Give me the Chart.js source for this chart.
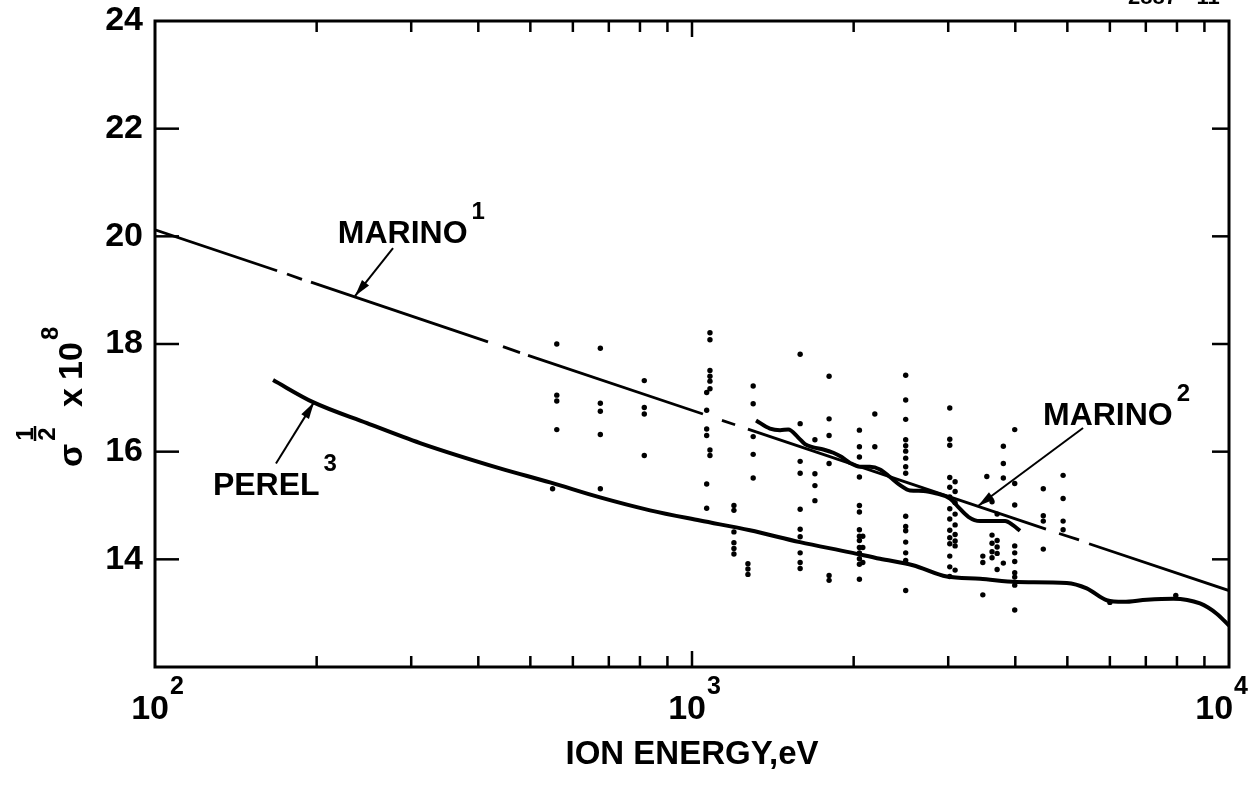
<!DOCTYPE html>
<html>
<head>
<meta charset="utf-8">
<script src="https://cdn.jsdelivr.net/npm/chart.js@4.4.1/dist/chart.umd.min.js"></script>
<style>
  html, body { margin: 0; padding: 0; background: #fff; }
  #chart { display: block; }
</style>
</head>
<body>
<canvas id="chart" width="1252" height="785"></canvas>
<script>
// ion energy (eV) vs sigma^1/2 x 10^8

// Marino (1) straight fit, drawn as dash/gap pairs (odd segments are gaps)
const marino1Energy = [100, 168.8, 176.1, 187.8, 195.2, 417, 444.6, 478.3, 495, 1048, 1137, 1203, 1271, 4562, 4825, 5257, 5488, 10000];
const marino1Value = [20.12, 19.36, 19.30, 19.20, 19.15, 18.04, 17.95, 17.84, 17.79, 16.70, 16.58, 16.50, 16.42, 14.56, 14.48, 14.36, 14.29, 13.42];

// Marino (2) measured curve
const marino2Energy = [1316, 1397, 1459, 1511, 1578, 1623, 1682, 1756, 1833, 1900, 1969, 2055, 2145, 2239, 2337, 2440, 2547, 2696, 2856, 3023, 3133, 3270, 3438, 3640, 3828, 3965, 4081];
const marino2Value = [16.58, 16.43, 16.40, 16.41, 16.26, 16.14, 16.08, 16.04, 15.98, 15.90, 15.79, 15.72, 15.72, 15.67, 15.53, 15.38, 15.28, 15.27, 15.22, 15.13, 14.97, 14.79, 14.71, 14.71, 14.71, 14.63, 14.53];

// Perel (3) theory
const perelEnergy = [165.9, 196.9, 248.2, 311.6, 438.9, 544, 674.1, 835.3, 1035, 1282, 1589, 1969, 2239, 2579, 2981, 3438, 4024, 4987, 5433, 5921, 6358, 7027, 7877, 8831, 9487, 10000];
const perelValue = [17.33, 16.92, 16.53, 16.16, 15.69, 15.43, 15.15, 14.91, 14.72, 14.54, 14.32, 14.13, 14.01, 13.89, 13.68, 13.64, 13.58, 13.56, 13.46, 13.24, 13.21, 13.25, 13.27, 13.18, 12.99, 12.77];

// scattered measurements, grouped by energy column
const dotEnergy = [560, 550, 675, 815, 1080, 1065, 1197, 1271, 1300, 1590, 1694, 1800, 2050, 2080, 2190, 2500, 3020, 3090, 3480, 3620, 3700, 3540, 3800, 3990, 4510, 4910, 6000, 7960];
const dotValues = [
  [18.0, 17.05, 16.94, 16.41],
  [15.31],
  [17.92, 16.90, 16.75, 16.32, 15.31],
  [17.32, 16.82, 16.70, 15.93],
  [18.21, 18.08, 17.51, 17.40, 17.31, 17.17, 16.03, 15.93],
  [17.10, 16.77, 16.42, 16.30, 15.40, 14.95],
  [15.0, 14.91, 14.51, 14.31, 14.20, 14.10],
  [13.92, 13.82, 13.72],
  [17.22, 16.89, 16.28, 15.95, 15.51],
  [17.81, 16.52, 15.82, 15.60, 14.93, 14.56, 14.42, 14.12, 13.94, 13.83],
  [16.22, 15.59, 15.37, 15.09],
  [17.40, 16.61, 16.30, 15.78, 13.70, 13.61],
  [16.40, 16.09, 15.90, 15.53, 15.00, 14.88, 14.55, 14.43, 14.35, 14.22, 14.12, 14.01, 13.91, 13.63],
  [14.43, 14.22, 13.94],
  [16.70, 16.09],
  [17.42, 16.96, 16.60, 16.22, 16.11, 16.01, 15.88, 15.72, 15.60, 14.80, 14.61, 14.53, 14.32, 14.12, 13.98, 13.42],
  [16.81, 16.23, 16.12, 15.52, 15.34, 15.16, 14.94, 14.75, 14.54, 14.40, 14.29, 14.06, 13.86, 13.68],
  [15.44, 15.26, 15.05, 14.84, 14.64, 14.46, 14.34, 14.25, 13.80],
  [14.06, 13.94, 13.34],
  [15.07, 14.45, 14.30, 14.14, 14.03],
  [14.84, 14.35, 14.23, 14.11, 13.81],
  [15.54],
  [16.10, 15.78, 15.51, 13.93],
  [16.41, 15.41, 15.01, 14.25, 14.12, 13.96, 13.75, 13.67, 13.52, 13.06],
  [15.31, 14.81, 14.71, 14.19],
  [15.56, 15.13, 14.71, 14.55],
  [13.20],
  [13.33]
];

// axis ticks
const xMinorTicks = [200, 300, 400, 500, 600, 700, 800, 900, 1000, 2000, 3000, 4000, 5000, 6000, 7000, 8000, 9000];
const xDecades = [100, 1000, 10000];
const xDecadeExp = ['2', '3', '4'];
const yTicks = [14, 16, 18, 20, 22];

// curve labels with arrows (data coordinates)
const curveLabels = [
  { text: 'MARINO', sup: '1', at: [219, 19.87], from: [277.5, 19.78], to: [235.7, 18.89] },
  { text: 'PEREL', sup: '3', at: [128.2, 15.19], from: [168, 15.78], to: [197.8, 16.92] },
  { text: 'MARINO', sup: '2', at: [4504, 16.49], from: [5348, 16.44], to: [3409, 14.99] }
];

const FONT = "'Liberation Sans', Arial, sans-serif";

const pts = (xs, ys) => xs.map((e, i) => ({ x: e, y: ys[i] }));
const dots = [];
dotEnergy.forEach((e, i) => dotValues[i].forEach(v => dots.push({ x: e, y: v })));

function line(ctx, x1, y1, x2, y2) {
  ctx.beginPath();
  ctx.moveTo(x1, y1);
  ctx.lineTo(x2, y2);
  ctx.stroke();
}

const decorations = {
  id: 'decorations',
  afterDatasetsDraw(chart) {
    const { ctx, chartArea: a, scales: { x, y } } = chart;
    ctx.save();
    ctx.strokeStyle = '#000';
    ctx.fillStyle = '#000';
    ctx.lineCap = 'butt';

    // frame
    ctx.lineWidth = 3;
    ctx.strokeRect(a.left, a.top, a.right - a.left, a.bottom - a.top);

    // inward ticks
    ctx.lineWidth = 2.5;
    xMinorTicks.forEach(v => {
      const px = x.getPixelForValue(v);
      const len = v === 1000 ? 16 : 11;
      line(ctx, px, a.bottom, px, a.bottom - len);
      line(ctx, px, a.top, px, a.top + len);
    });
    yTicks.forEach(v => {
      const py = y.getPixelForValue(v);
      line(ctx, a.left, py, a.left + 24, py);
      line(ctx, a.right, py, a.right - 17, py);
    });

    // decade labels 10^n
    ctx.textBaseline = 'alphabetic';
    ctx.textAlign = 'left';
    xDecades.forEach((v, i) => {
      const px = x.getPixelForValue(v);
      ctx.font = 'bold 34px ' + FONT;
      const w1 = ctx.measureText('10').width;
      ctx.font = 'bold 25px ' + FONT;
      const w2 = ctx.measureText(xDecadeExp[i]).width;
      let right = px + 14;
      if (right + w2 > 1247) right = 1247 - w2;
      ctx.font = 'bold 34px ' + FONT;
      ctx.fillText('10', right - w1, a.bottom + 52);
      ctx.font = 'bold 25px ' + FONT;
      ctx.fillText(xDecadeExp[i], right + 1, a.bottom + 27);
    });

    // x title
    ctx.textAlign = 'center';
    ctx.font = 'bold 33px ' + FONT;
    ctx.fillText('ION ENERGY,eV', (a.left + a.right) / 2, a.bottom + 97);

    // y title: sigma^(1/2) x 10^8, rotated
    ctx.save();
    ctx.translate(82, 467);
    ctx.rotate(-Math.PI / 2);
    ctx.textAlign = 'left';
    ctx.font = 'bold 34px ' + FONT;
    ctx.fillText('\u03c3', 0, 0);
    ctx.font = 'bold 24px ' + FONT;
    ctx.textAlign = 'center';
    ctx.fillText('1', 33, -49);
    ctx.fillText('2', 33, -27);
    ctx.lineWidth = 2.5;
    line(ctx, 26, -47, 41, -47);
    ctx.textAlign = 'left';
    ctx.font = 'bold 34px ' + FONT;
    ctx.fillText('x', 60, 0);
    ctx.fillText('10', 87, 0);
    ctx.font = 'bold 24px ' + FONT;
    ctx.fillText('8', 127, -24);
    ctx.restore();

    // curve labels and arrows
    curveLabels.forEach(lab => {
      const tx = x.getPixelForValue(lab.at[0]);
      const ty = y.getPixelForValue(lab.at[1]);
      ctx.textAlign = 'left';
      ctx.font = 'bold 32px ' + FONT;
      ctx.fillText(lab.text, tx, ty);
      const w = ctx.measureText(lab.text).width;
      ctx.font = 'bold 24px ' + FONT;
      ctx.fillText(lab.sup, tx + w + 4, ty - 24);

      const x1 = x.getPixelForValue(lab.from[0]), y1 = y.getPixelForValue(lab.from[1]);
      const x2 = x.getPixelForValue(lab.to[0]), y2 = y.getPixelForValue(lab.to[1]);
      ctx.lineWidth = 2;
      line(ctx, x1, y1, x2, y2);
      const ang = Math.atan2(y2 - y1, x2 - x1);
      const hl = 17, hw = 4.5;
      ctx.beginPath();
      ctx.moveTo(x2, y2);
      ctx.lineTo(x2 - hl * Math.cos(ang) - hw * Math.sin(ang), y2 - hl * Math.sin(ang) + hw * Math.cos(ang));
      ctx.lineTo(x2 - hl * Math.cos(ang) + hw * Math.sin(ang), y2 - hl * Math.sin(ang) - hw * Math.cos(ang));
      ctx.closePath();
      ctx.fill();
    });

    // figure number, cut off at the top edge
    ctx.textAlign = 'left';
    ctx.font = 'bold 22px ' + FONT;
    ctx.fillText('2887-  11', 1128, 4);

    ctx.restore();
  }
};

new Chart(document.getElementById('chart').getContext('2d'), {
  type: 'scatter',
  data: {
    datasets: [
      {
        label: 'data',
        data: dots,
        pointRadius: 2.7,
        pointBackgroundColor: '#000',
        pointBorderWidth: 0,
        showLine: false
      },
      {
        label: 'Marino 1',
        data: pts(marino1Energy, marino1Value),
        showLine: true,
        pointRadius: 0,
        borderWidth: 2.8,
        borderColor: '#000',
        tension: 0,
        segment: {
          borderColor: c => (c.p0DataIndex % 2 === 1 ? 'rgba(0,0,0,0)' : '#000')
        }
      },
      {
        label: 'Marino 2',
        data: pts(marino2Energy, marino2Value),
        showLine: true,
        pointRadius: 0,
        borderWidth: 4,
        borderColor: '#000',
        cubicInterpolationMode: 'monotone'
      },
      {
        label: 'Perel 3',
        data: pts(perelEnergy, perelValue),
        showLine: true,
        pointRadius: 0,
        borderWidth: 4,
        borderColor: '#000',
        cubicInterpolationMode: 'monotone'
      }
    ]
  },
  options: {
    responsive: false,
    animation: false,
    layout: { padding: { top: 21, right: 23, left: 0, bottom: 0 } },
    plugins: {
      legend: { display: false },
      tooltip: { enabled: false }
    },
    scales: {
      x: {
        type: 'logarithmic',
        min: 100,
        max: 10000,
        grid: { display: false, drawTicks: false },
        border: { display: false },
        ticks: { display: false },
        afterFit: s => { s.height = 118; s.paddingLeft = 0; s.paddingRight = 0; }
      },
      y: {
        type: 'linear',
        min: 12,
        max: 24,
        grid: { display: false, drawTicks: false },
        border: { display: false },
        ticks: {
          stepSize: 2,
          padding: 12,
          color: '#000',
          font: { family: FONT, size: 34, weight: 'bold' },
          callback: v => (v === 12 ? '' : v)
        },
        afterFit: s => { s.width = 155; s.paddingTop = 0; s.paddingBottom = 0; }
      }
    }
  },
  plugins: [decorations]
});
</script>
</body>
</html>
